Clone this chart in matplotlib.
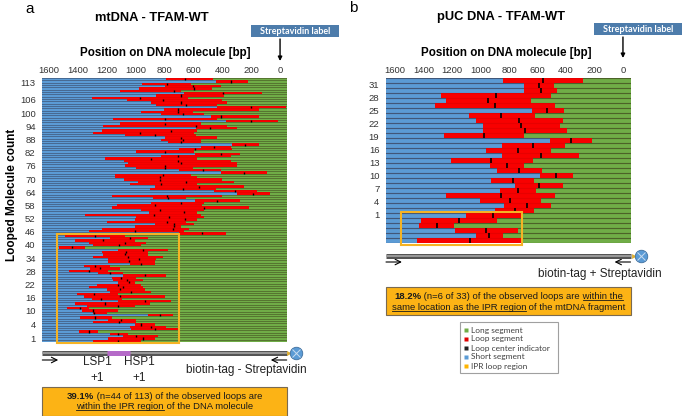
import numpy as np
import matplotlib
matplotlib.use('Agg')
import matplotlib.pyplot as plt
from matplotlib.transforms import blended_transform_factory
from matplotlib.patches import Rectangle
from matplotlib.lines import Line2D

plt.rcParams['font.family'] = ['Liberation Sans', 'DejaVu Sans']

# ---------------- data (top row first), positions in bp ----------------
a_start = [789, 446, 953, 800, 978, 1106, 663, 857, 1303, 1063, 892, 857, 434, 800, 960, 823, 480, 1155, 377, 1109,
           1223, 583, 1235, 1292, 1074, 800, 823, 777, 332, 549, 697, 999, 590, 823, 1212, 1079, 1052,
           1074, 999, 697, 412, 1143, 1143, 1079, 983, 1040, 869, 903, 457, 297, 1166, 880, 590, 892, 1132, 1166, 960,
           910, 1349, 995, 1006, 1200, 869, 1006, 1235, 1326, 697, 1486, 1177, 1417, 1326, 1292, 1532, 1120, 1235,
           1223, 1292, 1189, 1189, 1040, 1360, 1315, 1463, 1262, 1086, 1166, 1155, 1120, 1269, 1326, 1200, 1177, 1406,
           1360, 1303, 1120, 1417, 1337, 1475, 1372, 1292, 914, 1383, 1189, 1292, 1006, 1040, 1029, 1395, 1177, 1086,
           1189, 1292]
a_end = [464, 224, 617, 412, 469, 686, 126, 389, 640, 400, 366, 434, -40, 149, 606, 526, 149, 434, 12, 549,
         366, 297, 572, 594, 583, 434, 549, 549, 149, 343, 332, 594, 274, 343, 572, 343, 297,
         297, 606, 412, 92, 617, 572, 400, 320, 572, 252, 446, 160, 69, 400, 652, 274, 526, 537, 217, 526,
         572, 549, 526, 572, 652, 594, 686, 629, 663, 377, 1074, 914, 1006, 926, 960, 1349, 777, 914,
         914, 812, 857, 869, 869, 1177, 1109, 1189, 1086, 789, 995, 949, 1006, 960, 949, 937, 892, 1120,
         800, 1097, 754, 903, 1006, 1326, 1120, 1200, 743, 1166, 995, 995, 869, 789, 709, 1257, 1052, 846,
         869, 960]
a_center = [658, 338, 782, 606, 599, 732, 393, 686, 969, 812, 686, 652, 201, 709, 709, 674, 412, 796, 201, 800,
            583, 485, 754, 967, 869, 686, 674, 686, 240, 457, 590, 800, 407, 709, 892, 709, 686,
            800, 800, 533, 252, 812, 828, 830, 649, 823, 558, 674, 309, 188, 782, 777, 434, 686, 869, 526, 834,
            668, 876, 766, 658, 784, 732, 732, 738, 1001, 537, 1280, 1036, 1225, 1074, 1116, 1440, 949, 1070,
            1074, 1056, 978, 1047, 960, 1280, 1246, 1326, 1177, 937, 1102, 1063, 1047, 1120, 1086, 1109, 1029, 1285,
            1109, 1239, 937, 1212, 1120, 1383, 1292, 1285, 828, 1280, 1102, 1116, 960, 892, 869, 1326, 1120, 994,
            949, 1120]
a_tick_labels = [1, 4, 10, 16, 22, 28, 34, 40, 46, 52, 58, 64, 70, 76, 82, 88, 94, 100, 106, 113]

b_start = [840, 695, 695, 1279, 1244, 1321, 641, 1085, 1031, 985, 985, 1254, 512, 847, 964, 847, 1207, 933, 886,
           582, 926, 760, 863, 1240, 1008, 835, 896, 1106, 1417, 1434, 1183, 1036, 1445]
b_end = [278, 484, 461, 503, 648, 479, 414, 617, 421, 442, 395, 695, 215, 409, 507, 309, 631, 695, 571,
         353, 624, 421, 608, 479, 578, 507, 627, 716, 882, 1186, 737, 842, 718]
b_center = [561, 589, 578, 891, 945, 900, 531, 854, 730, 718, 690, 975, 365, 631, 734, 578, 924, 816, 730,
            468, 776, 589, 737, 858, 793, 671, 760, 912, 1151, 1310, 961, 938, 1076]
b_tick_labels = [1, 4, 7, 10, 13, 16, 19, 22, 25, 28, 31]

x_ticks = [1600, 1400, 1200, 1000, 800, 600, 400, 200, 0]
ipr_a = (1545, 700)   # IPR box extent in bp, panel a
ipr_b = (1560, 710)   # IPR box extent in bp, panel b
lsp_hsp = (1200, 1036)

BLUE = '#5b9bd5'
RED = '#f80000'
GREEN = '#70ad47'
GOLD = '#f5b324'

W, H = 686, 416
fig = plt.figure(figsize=(W / 100, H / 100), dpi=100)


def fx(px):
    return px / W


def fy(py):
    return 1 - py / H


def panel(rect_px, start, end, center, xlim, sep_lw, sep_alpha, tick_lw, ylabels, ypos, ipr, ipr_rows):
    l, t, r, b = rect_px
    ax = fig.add_axes([fx(l), fy(b), (r - l) / W, (b - t) / H])
    n = len(start)
    y = np.arange(n)[::-1]
    s = np.array(start, float)
    e = np.array(end, float)
    hi, lo = xlim[0] + 300, xlim[1] - 300
    ax.barh(y, hi - s, left=s, height=1.0, color=BLUE, linewidth=0, zorder=1)
    ax.barh(y, e - lo, left=lo, height=1.0, color=GREEN, linewidth=0, zorder=1)
    ax.hlines(np.arange(n + 1) - 0.5, lo, hi, color='black', alpha=sep_alpha, lw=sep_lw, zorder=1.5)
    ax.barh(y, s - e, left=e, height=1.0, color=RED, linewidth=0, zorder=2)
    ax.hlines(np.arange(n + 1) - 0.5, lo, hi, color='#700000', alpha=sep_alpha * 0.35, lw=sep_lw, zorder=2.2)
    ax.vlines(center, y - 0.45, y + 0.45, color='black', lw=tick_lw, zorder=3)
    ax.set_xlim(xlim)
    ax.set_ylim(-0.5, n - 0.5)
    ax.xaxis.tick_top()
    ax.set_xticks(x_ticks)
    ax.set_xticklabels([str(v) for v in x_ticks])
    ax.set_yticks(ypos)
    ax.set_yticklabels([str(v) for v in ylabels])
    ax.tick_params(axis='x', length=0, pad=2.5, labelsize=6.8, colors='#333333')
    ax.tick_params(axis='y', length=0, pad=4.8, labelsize=6.8, colors='#333333')
    for sp in ax.spines.values():
        sp.set_visible(False)
    ax.add_patch(Rectangle((ipr[1], -0.9), ipr[0] - ipr[1], ipr_rows + 0.9 - 0.5 + 0.2,
                           fill=False, edgecolor=GOLD, lw=1.5, clip_on=False, zorder=5))
    return ax


ypos_a = np.interp(a_tick_labels, [1, 4, 106, 113], [1.2, 7.2, 103.1, 110.4])
ax_a = panel((42.3, 78, 286.7, 342), a_start, a_end, a_center, (1646, -46), 0.5, 0.35, 1.0,
             a_tick_labels, ypos_a, ipr_a, 46)
ypos_b = 5.24 + (np.array(b_tick_labels) - 1) * 0.862
ax_b = panel((386, 78, 630.5, 243), b_start, b_end, b_center, (1665, -53), 0.8, 0.35, 1.2,
             b_tick_labels, ypos_b, ipr_b, 6)

# ---------------- titles and labels ----------------
fig.text(fx(30), fy(9), 'a', fontsize=11, ha='center', va='center')
fig.text(fx(353), fy(8), 'b', fontsize=11, ha='center', va='center')
fig.text(fx(152), fy(18), 'mtDNA - TFAM-WT', fontsize=9.3, fontweight='bold', ha='center', va='center')
fig.text(fx(501), fy(17), 'pUC DNA - TFAM-WT', fontsize=9.3, fontweight='bold', ha='center', va='center')
for cx in (165, 506):
    fig.text(fx(cx), fy(53), 'Position on DNA molecule [bp]', fontsize=8.4, fontweight='bold',
             ha='center', va='center')
fig.text(fx(12), fy(195), 'Looped Molecule count', fontsize=8.5, fontweight='bold', rotation=90,
         ha='center', va='center')

for (x0, x1, y0, y1, ax_) in ((251, 339, 25, 37, ax_a), (594, 682, 23, 35, ax_b)):
    fig.add_artist(Rectangle((fx(x0), fy(y1)), (x1 - x0) / W, (y1 - y0) / H, transform=fig.transFigure,
                             facecolor='#4d7cab', edgecolor='none'))
    fig.text(fx((x0 + x1) / 2), fy((y0 + y1) / 2), 'Streptavidin label', color='white', fontsize=6.5,
             fontweight='bold', family=['Lato', 'DejaVu Sans'], ha='center', va='center')
    tr = blended_transform_factory(ax_.transData, fig.transFigure)
    ax_.annotate('', xy=(0, fy(61 if ax_ is ax_a else 58)), xytext=(0, fy(y1 + 2)),
                 xycoords=tr, textcoords=tr,
                 arrowprops=dict(arrowstyle='-|>', lw=1.0, color='black', mutation_scale=6,
                                 shrinkA=0, shrinkB=0), annotation_clip=False)

# ---------------- DNA line under each panel ----------------
for ax_, yl, ya, xc in ((ax_a, 353, 360, 296), (ax_b, 256, 262, 641)):
    ta = blended_transform_factory(ax_.transAxes, fig.transFigure)
    fig.add_artist(Line2D([0, 1], [fy(yl), fy(yl)], transform=ta, lw=3.6, color='#555555',
                          solid_capstyle='butt'))
    fig.add_artist(Line2D([0, 1], [fy(yl), fy(yl)], transform=ta, lw=1.3, color='#a0a0a0',
                          solid_capstyle='butt'))
    fig.add_artist(Line2D([fx(xc - 7)], [fy(yl)], transform=fig.transFigure, marker='>', ms=3.5,
                          color='#e0b030', mec='none'))
    fig.add_artist(Line2D([fx(xc)], [fy(yl)], transform=fig.transFigure, marker='o', ms=9,
                          mfc='#5b9bd5', mec='#3f6f9e', mew=0.6))
    fig.add_artist(Line2D([fx(xc)], [fy(yl)], transform=fig.transFigure, marker='x', ms=6,
                          mec='#c8dcf0', mew=0.7))
    ax_.annotate('', xy=(0.065, fy(ya)), xytext=(0.0, fy(ya)), xycoords=ta, textcoords=ta,
                 arrowprops=dict(arrowstyle='->', lw=0.8, color='black', shrinkA=0, shrinkB=0),
                 annotation_clip=False)
    ax_.annotate('', xy=(0.935, fy(ya)), xytext=(1.0, fy(ya)), xycoords=ta, textcoords=ta,
                 arrowprops=dict(arrowstyle='->', lw=0.8, color='black', shrinkA=0, shrinkB=0),
                 annotation_clip=False)

tr_a = blended_transform_factory(ax_a.transData, fig.transFigure)
fig.add_artist(Line2D(list(lsp_hsp), [fy(353), fy(353)], transform=tr_a, lw=3.6, color='#b56ac8',
                      solid_capstyle='butt'))
fig.text(fx(97), fy(370), 'LSP1\n+1', fontsize=8.5, ha='center', va='center', linespacing=1.35,
         color='#222222')
fig.text(fx(139.5), fy(370), 'HSP1\n+1', fontsize=8.5, ha='center', va='center', linespacing=1.35,
         color='#222222')
fig.text(fx(246), fy(370), 'biotin-tag - Streptavidin', fontsize=8.5, ha='center', va='center',
         color='#222222')
fig.text(fx(600), fy(274), 'biotin-tag + Streptavidin', fontsize=8.5, ha='center', va='center',
         color='#222222')

# ---------------- orange summary boxes with rich text ----------------
renderer = fig.canvas.get_renderer()


def measure(txt, bold, size):
    t = fig.text(0, 0, txt, fontsize=size, fontweight='bold' if bold else 'normal')
    w = t.get_window_extent(renderer).width
    t.remove()
    return w


def rich_line(xc, ybase, segments, size=6.8):
    widths = [measure(s, b, size) for s, b, u in segments]
    x = xc - sum(widths) / 2
    for (s, b, u), w in zip(segments, widths):
        fig.text(fx(x), fy(ybase), s, fontsize=size, fontweight='bold' if b else 'normal',
                 ha='left', va='baseline', color='#1a1a1a')
        if u:
            lead = len(s) - len(s.lstrip())
            off = measure(' ' * lead + 'x', b, size) - measure('x', b, size) if lead else 0
            fig.add_artist(Line2D([fx(x + off), fx(x + w)], [fy(ybase + 1.3)] * 2,
                                  transform=fig.transFigure, lw=0.6, color='#1a1a1a'))
        x += w


for (x0, x1, y0, y1) in ((42.3, 287, 387, 415.5), (386, 631, 287, 315)):
    fig.add_artist(Rectangle((fx(x0), fy(y1)), (x1 - x0) / W, (y1 - y0) / H, transform=fig.transFigure,
                             facecolor='#fcb315', edgecolor='#7a6a50', lw=0.8))

rich_line(164.6, 399, [('39.1%', True, False), (' (n=44 of 113) of the observed loops are', False, False)])
rich_line(164.6, 409, [('within the IPR region', False, True), (' of the DNA molecule', False, False)])
rich_line(508.5, 299, [('18.2%', True, False), (' (n=6 of 33) of the observed loops are', False, False),
                       (' within the', False, True)])
rich_line(508.5, 309.5, [('same location as the IPR region', False, True),
                         (' of the mtDNA fragment', False, False)])

# ---------------- legend ----------------
fig.add_artist(Rectangle((fx(460), fy(373)), 98 / W, 51 / H, transform=fig.transFigure,
                         facecolor='white', edgecolor='#a0a0a0', lw=0.8))
leg = [('Long segment', '#70ad47'), ('Loop segment', '#e00000'), ('Loop center indicator', '#222222'),
       ('Short segment', '#5b9bd5'), ('IPR loop region', '#ffb400')]
for i, (lab, col) in enumerate(leg):
    yy = 330 + i * 9
    fig.add_artist(Line2D([fx(466)], [fy(yy)], transform=fig.transFigure, marker='s', ms=3.3,
                          color=col, mec='none'))
    fig.text(fx(471), fy(yy), lab, fontsize=6.0, family=['Lato', 'DejaVu Sans'], ha='left', va='center',
             color='#404040')

fig.savefig('out.png', dpi=100)
